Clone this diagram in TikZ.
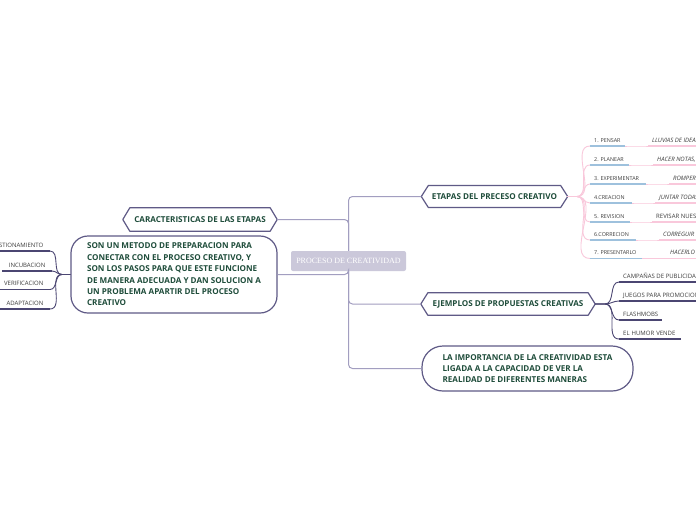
\documentclass[tikz,border=0pt]{standalone}
\usepackage{fontspec}
\setmainfont{Open Sans}
\newfontfamily\centerserif{Liberation Serif}
\frenchspacing
\definecolor{trunk}{HTML}{A29EC0}
\definecolor{hexline}{HTML}{5F5A86}
\definecolor{hextext}{HTML}{1F4D3B}
\definecolor{centerfill}{HTML}{CBC8DA}
\definecolor{leafline}{HTML}{4B4672}
\definecolor{blueline}{HTML}{9EC1DD}
\definecolor{pinkline}{HTML}{F9C8DB}
\definecolor{leaftext}{HTML}{3C3C3C}
\tikzset{
  trunkline/.style={draw=trunk, line width=1pt, rounded corners=4pt},
  hexnode/.style={inner sep=0pt, text=hextext, font=\fontsize{8.1}{9}\selectfont\bfseries},
  hexframe/.style={draw=hexline, line width=1.2pt, line join=round},
  roundnode/.style={draw=hexline, line width=1.2pt, text=hextext, align=left, inner sep=0pt,
    font=\fontsize{8.1}{11.4}\selectfont\bfseries},
  centernode/.style={fill=centerfill, rounded corners=2pt, text=white, inner sep=0pt,
    font=\centerserif\fontsize{8}{9}\selectfont},
  leafbase/.style={inner xsep=4pt, inner ysep=3.5pt, text height=4pt, text depth=0pt,
    text=leaftext, font=\fontsize{6}{7}\selectfont},
  leafR/.style={leafbase, anchor=south west, align=left},
  leafL/.style={leafbase, inner xsep=6.5pt, anchor=south east, align=right},
  stepfont/.style={font=\fontsize{5.4}{6}\selectfont},
  ideafont/.style={font=\fontsize{6}{7}\selectfont\itshape},
  pinkconn/.style={draw=pinkline, line width=0.9pt},
  blueul/.style={draw=blueline, line width=1.6pt},
  pinkul/.style={draw=pinkline, line width=1.4pt},
  darkconn/.style={draw=leafline, line width=0.9pt},
  darkul/.style={draw=leafline, line width=1.1pt},
}
\newcommand\hexaround[1]{%
  \draw[hexframe] (#1.west) -- ([xshift=7pt]#1.north west) -- ([xshift=-7pt]#1.north east)
    -- (#1.east) -- ([xshift=-7pt]#1.south east) -- ([xshift=7pt]#1.south west) -- cycle;}
\begin{document}
\begin{tikzpicture}[x=1pt,y=-1pt]
\useasboundingbox[fill=white] (0,0) rectangle (696,520);
\coordinate (rightedge) at (720,0);

% central topic
\node[centernode, minimum width=115, minimum height=20] (c) at (348.5,261) {PROCESO DE CREATIVIDAD};

% main topics
\node[hexnode, minimum width=154, minimum height=23] (carac) at (200,219.5) {CARACTERISTICAS DE LAS ETAPAS};
\hexaround{carac}
\node[hexnode, minimum width=146, minimum height=21.5] (etapas) at (494.5,196.5) {ETAPAS DEL PRECESO CREATIVO};
\hexaround{etapas}
\node[hexnode, minimum width=174, minimum height=22] (ejemplos) at (508,304) {EJEMPLOS DE PROPUESTAS CREATIVAS};
\hexaround{ejemplos}
\node[roundnode, rounded corners=17pt, minimum width=206, minimum height=77] (metodo) at (174,274.5)
  {SON UN METODO DE PREPARACION PARA\\CONECTAR CON EL PROCESO CREATIVO, Y\\SON LOS PASOS PARA QUE ESTE FUNCIONE\\DE MANERA ADECUADA Y DAN SOLUCION A\\UN PROBLEMA APARTIR DEL PROCESO\\CREATIVO};
\node[roundnode, rounded corners=21pt, minimum width=211, minimum height=45] (importancia) at (527.5,368.5)
  {LA IMPORTANCIA DE LA CREATIVIDAD ESTA\\LIGADA A LA CAPACIDAD DE VER LA\\REALIDAD DE DIFERENTES MANERAS};

% trunk connectors
\draw[trunkline] (c) |- (etapas.west);
\draw[trunkline] (c) |- (ejemplos.west);
\draw[trunkline] (c) |- (importancia.west);
\draw[trunkline] (carac.east) -| (c);
\draw[trunkline] (metodo.east) -| (c);

% left leaves of metodo
\node[leafL] (l1) at (50,251) {CUESTIONAMIENTO};
\node[leafL] (l2) at (52,271) {INCUBACION};
\node[leafL] (l3) at (50,289.5) {VERIFICACION};
\node[leafL] (l4) at (50,309) {ADAPTACION};
\coordinate (lj) at (62,274.5);
\foreach \n in {l1,l2,l3,l4}{
  \draw[darkconn] (metodo.west) -- (lj) to[out=180,in=0] (\n.south east);
  \draw[darkul] (\n.south west) -- (\n.south east);
}

% etapas children
\coordinate (ej) at (577,196.5);
\node[leafR, stepfont, text width=27pt] (e1) at (590,146) {1. PENSAR};
\node[leafR, stepfont, text width=31pt] (e2) at (590,165) {2. PLANEAR};
\node[leafR, stepfont, text width=48pt] (e3) at (590,184) {3. EXPERIMENTAR};
\node[leafR, stepfont, text width=34pt] (e4) at (590,203) {4.CREACION};
\node[leafR, stepfont, text width=32pt] (e5) at (590,222) {5. REVISION};
\node[leafR, stepfont, text width=38pt] (e6) at (590,240) {6.CORRECION};
\node[leafR, stepfont, text width=44pt] (e7) at (590,258.5) {7. PRESENTARLO};
\foreach \n in {e1,e2,e3,e4,e5,e6,e7}{
  \draw[pinkconn] (etapas.east) -- (ej) to[out=0,in=180] (\n.south west);
  \draw[blueul] (\n.south west) -- (\n.south east);
}
\node[leafR, ideafont] (g1) at (648,146) {LLUVIAS DE IDEAS,};
\node[leafR, ideafont] (g2) at (653,165) {HACER NOTAS,};
\node[leafR, ideafont] (g3) at (669,184) {ROMPER};
\node[leafR, ideafont] (g4) at (655,203) {JUNTAR TODAS};
\node[leafR] (g5) at (652,222) {REVISAR NUESTRO};
\node[leafR, ideafont] (g6) at (659,240) {CORREGUIR};
\node[leafR, ideafont] (g7) at (666,258.5) {HACERLO};
\foreach \a/\b in {e1/g1,e2/g2,e3/g3,e4/g4,e5/g5,e6/g6,e7/g7}{
  \draw[pinkconn] (\a.south east) to[out=0,in=180] (\b.south west);
  \draw[pinkul] (\b.south west) -- (\b.south west -| rightedge);
}

% ejemplos children
\coordinate (xj) at (605,304);
\node[leafR] (x1) at (619,282) {CAMPAÑAS DE PUBLICIDAD};
\node[leafR] (x2) at (619,301) {JUEGOS PARA PROMOCION};
\node[leafR, text width=35pt] (x3) at (619,320) {FLASHMOBS};
\node[leafR, text width=54pt] (x4) at (619,339) {EL HUMOR VENDE};
\foreach \n in {x1,x2,x3,x4}{
  \draw[darkconn] (ejemplos.east) -- (xj) to[out=0,in=180] (\n.south west);
}
\draw[darkul] (x1.south west) -- (x1.south west -| rightedge);
\draw[darkul] (x2.south west) -- (x2.south west -| rightedge);
\draw[darkul] (x3.south west) -- (x3.south east);
\draw[darkul] (x4.south west) -- (x4.south east);
\end{tikzpicture}
\end{document}
